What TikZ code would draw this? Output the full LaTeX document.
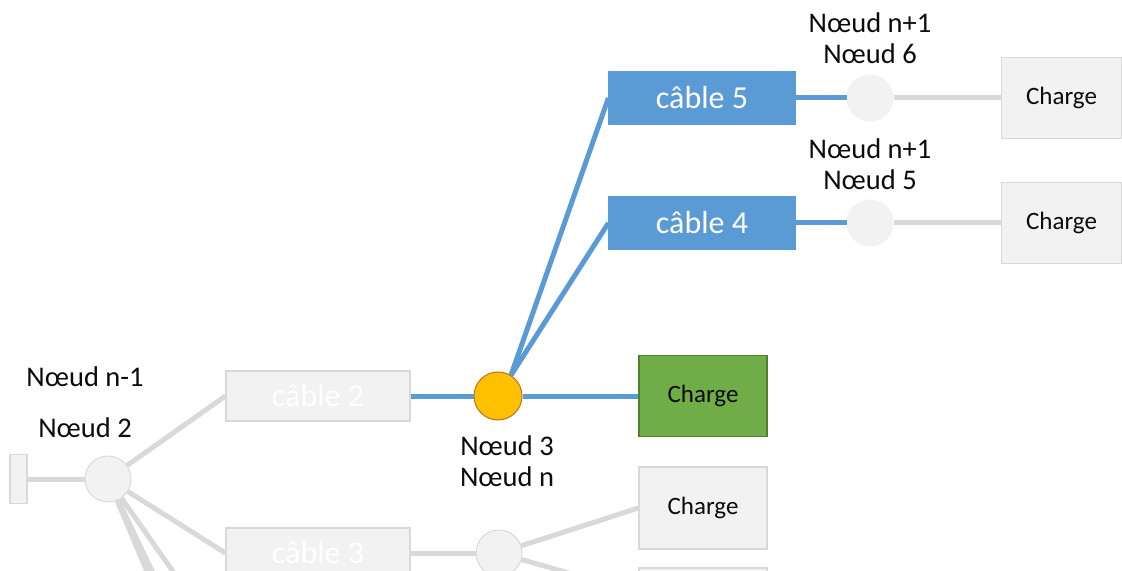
\documentclass[tikz,border=0pt]{standalone}
\usepackage{fontspec}
\setmainfont{Carlito}
\definecolor{hair}{HTML}{D9D9D9}
\definecolor{paper}{HTML}{F2F2F2}
\definecolor{cable}{HTML}{5B9BD5}
\definecolor{loadgreen}{HTML}{70AD47}
\definecolor{loadedge}{HTML}{507E32}
\definecolor{amber}{HTML}{FFC000}
\definecolor{amberedge}{HTML}{C0701A}
\definecolor{ink}{HTML}{0B0B0B}
\tikzset{
  every node/.style={text=ink},
  box/.style={draw=hair, fill=paper, line width=0.6pt, inner sep=0pt},
  cablebox/.style={box, minimum width=92pt, minimum height=25pt, text=white, font=\fontsize{16}{18}\selectfont},
  cableon/.style={cablebox, draw=cable, fill=cable, minimum width=93pt, minimum height=26pt},
  load/.style={box, minimum width=60pt, minimum height=40.5pt, font=\fontsize{12.5}{14}\selectfont},
  loadon/.style={load, fill=loadgreen, draw=loadedge, minimum width=64pt},
  bus/.style={circle, draw=hair, fill=paper, line width=0.5pt, minimum size=23pt, inner sep=0pt},
  busfree/.style={bus, draw=paper},
  buson/.style={bus, fill=amber, draw=amberedge, minimum size=24pt},
  wire/.style={draw=hair, line width=2.5pt},
  wireon/.style={draw=cable, line width=2.5pt},
  note/.style={font=\fontsize{14.25}{15.5}\selectfont, align=center},
}
\begin{document}
\begin{tikzpicture}[x=0.5pt,y=-0.5pt]
  \clip (0,0) rectangle (1122,571);

  % upstream part (greyed out)
  \node[box, minimum width=8.5pt, minimum height=24.5pt] (src) at (18.5,479) {};
  \node[bus] (n2) at (108,479) {};
  \node[cablebox] (c2) at (318,396) {câble 2};
  \node[cablebox] (c3) at (318,553) {câble 3};
  \coordinate (d1) at (159,600);
  \coordinate (d2) at (166,600);
  \coordinate (d3) at (193,600);
  \node[note] at (85,377) {Nœud n-1};
  \node[note] at (85,428) {Nœud 2};

  % active node and its branches
  \node[buson] (n3) at (498,396) {};
  \node[note] at (507,461) {Nœud 3\\Nœud n};
  \node[loadon] (l3) at (703,396) {Charge};
  \node[cableon] (c5) at (702,98) {câble 5};
  \node[cableon] (c4) at (702,223) {câble 4};

  % downstream nodes
  \node[busfree] (n6) at (870,98) {};
  \node[busfree] (n5) at (870,223) {};
  \node[note] at (870,38) {Nœud n+1\\Nœud 6};
  \node[note] at (870,164) {Nœud n+1\\Nœud 5};
  \node[load] (l6) at (1061.5,98) {Charge};
  \node[load] (l5) at (1061.5,223) {Charge};

  % lower branch (greyed out)
  \node[bus] (n4) at (499,553) {};
  \node[load, minimum width=64pt, minimum height=41pt] (lb) at (703,508) {Charge};
  \node[load, minimum width=64pt, minimum height=41pt] (lc) at (703,609) {};
  \coordinate (d4) at (600,582);

  % connectors
  \draw[wire] (src) -- (n2);
  \draw[wire] (n2) -- (c2.west);
  \draw[wire] (n2) -- (c3.west);
  \foreach \d in {d1,d2,d3}
    \draw[wire] (n2) -- (\d);
  \draw[wire] (c3) -- (n4);
  \draw[wire] (n4) -- (lb.west);
  \draw[wire] (n4) -- (d4);
  \draw[wireon] (c2) -- (n3);
  \draw[wireon] (n3) -- (l3);
  \draw[wireon] (n3.58) -- (c5.west);
  \draw[wireon] (n3.58) -- (c4.west);
  \draw[wireon] (c5) -- (n6);
  \draw[wireon] (c4) -- (n5);
  \draw[wire] (n6) -- (l6);
  \draw[wire] (n5) -- (l5);
\end{tikzpicture}
\end{document}
